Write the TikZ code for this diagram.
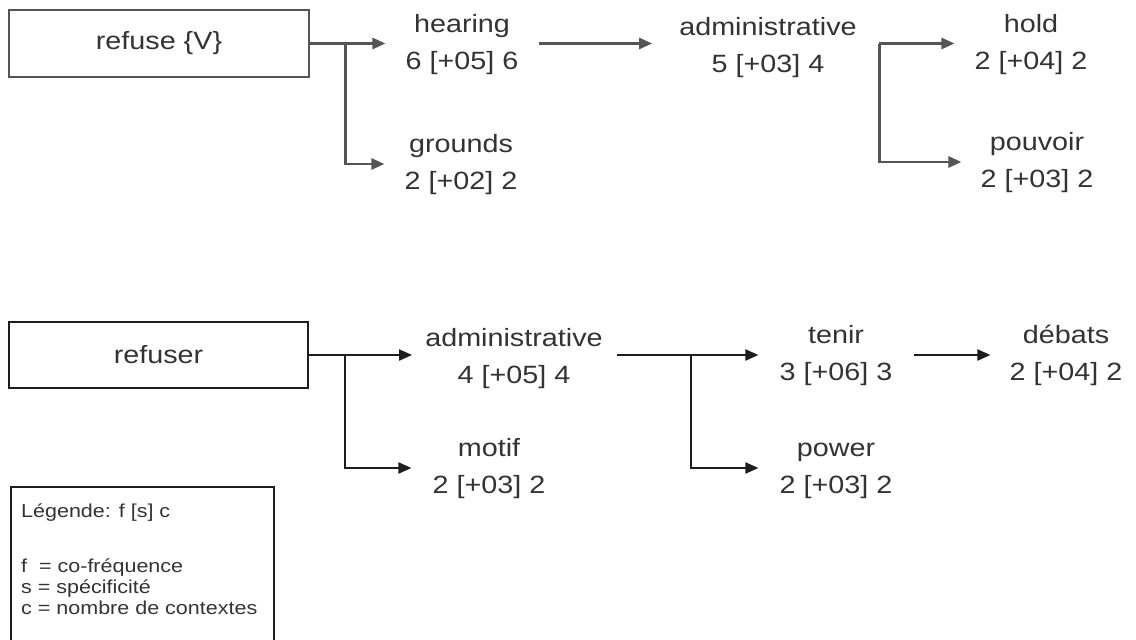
\documentclass[tikz,border=0pt]{standalone}
\usepackage{fontspec}
\setmainfont{Liberation Sans}[FakeStretch=1.15]
\usetikzlibrary{arrows.meta}
\definecolor{txt}{HTML}{333333}
\definecolor{lnA}{HTML}{555555}
\definecolor{lnB}{HTML}{1E1E1E}
\begin{document}
\begin{tikzpicture}[x=1pt,y=-1pt,
  lbl/.style={inner sep=0pt, align=center, text=txt, font=\fontsize{25}{37}\selectfont},
  wbox/.style={draw=lnA, line width=2.4pt, inner sep=0pt, text=txt, font=\fontsize{25}{37}\selectfont},
  conA/.style={draw=lnA, line width=2.6pt, -{Triangle[length=13pt,width=11pt]}},
  conB/.style={draw=lnB, line width=2pt, -{Triangle[length=13pt,width=11pt]}},
]
\useasboundingbox (0,0) rectangle (1136,640);
\fill[white] (0,0) rectangle (1136,640);

% ---------- top tree ----------
\node[wbox, minimum width=300pt, minimum height=67pt] (refuse) at (159,43.5) {refuse \{V\}};
\node[lbl] (hearing) at (462,43.5) {\strut hearing\\\strut 6 [+05] 6};
\node[lbl] (grounds) at (461,164) {\strut grounds\\\strut 2 [+02] 2};
\node[lbl] (adm1) at (768,47) {\strut administrative\\\strut 5 [+03] 4};
\node[lbl] (hold) at (1031,43.5) {\strut hold\\\strut 2 [+04] 2};
\node[lbl] (pouvoir) at (1037,162) {\strut pouvoir\\\strut 2 [+03] 2};

\coordinate (b1) at ([xshift=35pt]refuse.east);
\coordinate (b2) at ([xshift=22.5pt]adm1.east |- refuse.east);

\draw[conA, shorten >=20pt] (refuse.east) -- (refuse.east -| hearing.west);
\draw[conA, shorten >=20pt] (b1) |- (grounds.west);
\draw[conA, shorten <=20pt, shorten >=27pt] (hearing.east |- refuse.east) -- (adm1.west |- refuse.east);
\draw[conA, shorten >=20pt] (b2) -- (b2 -| hold.west);
\draw[conA, shorten >=19pt] (b2) |- (pouvoir.west);

% ---------- bottom tree ----------
\node[wbox, draw=lnB, minimum width=299pt, minimum height=66pt] (refuser) at (158.5,355) {refuser};
\node[lbl] (adm2) at (514,358) {\strut administrative\\\strut 4 [+05] 4};
\node[lbl] (motif) at (489,468) {\strut motif\\\strut 2 [+03] 2};
\node[lbl] (tenir) at (836,355) {\strut tenir\\\strut 3 [+06] 3};
\node[lbl] (power) at (836,468) {\strut power\\\strut 2 [+03] 2};
\node[lbl] (debats) at (1066,355) {\strut débats\\\strut 2 [+04] 2};

\coordinate (b3) at ([xshift=36pt]refuser.east);
\coordinate (b4) at (691,355);

\draw[conB, shorten >=13pt] (refuser.east) -- (refuser.east -| adm2.west);
\draw[conB, shorten >=21pt] (b3) |- (motif.west);
\draw[conB, shorten <=14pt, shorten >=21pt] (adm2.east |- refuser.east) -- (tenir.west);
\draw[conB, shorten >=21pt] (b4) |- (power.west);
\draw[conB, shorten <=21pt, shorten >=19pt] (tenir.east) -- (debats.west);

% ---------- legend ----------
\node[draw=lnB, line width=1.8pt, minimum width=263pt, minimum height=180pt, anchor=north west, inner sep=0pt] (legbox) at (10,486) {};
\node[anchor=north west, inner sep=0pt, align=left, text=txt, font=\fontsize{18.7}{21}\selectfont] (legtext) at (21,502.3)
  {\strut Légende: f [s] c\\[34pt]\strut f\ \ = co-fréquence\\\strut s = spécificité\\\strut c = nombre de contextes};
\end{tikzpicture}
\end{document}
